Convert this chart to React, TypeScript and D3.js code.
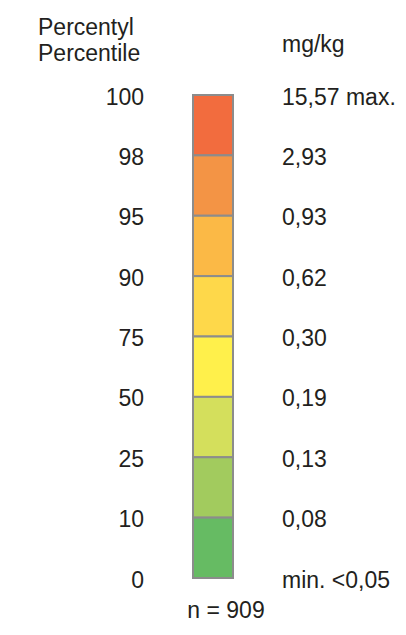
import React, { useRef, useEffect } from 'react';
import * as d3 from 'd3';

// Percentile boundaries (top to bottom) and matching concentrations
const percentiles = ['100', '98', '95', '90', '75', '50', '25', '10', '0'];
const concentrations = ['15,57 max.', '2,93', '0,93', '0,62', '0,30', '0,19', '0,13', '0,08', 'min. <0,05'];
// One colour per class between two boundaries
const classColors = ['#F26C3E', '#F39445', '#FBB946', '#FED84A', '#FFF04B', '#D4DF5C', '#A2CB5E', '#66BB63'];
const sampleCount = 909;

const App = () => {
    const chartRef = useRef<SVGSVGElement | null>(null);

    useEffect(() => {
        const width = 406;
        const height = 635;
        const font = 'Liberation Sans, Arial, sans-serif';
        const fontSize = 23;
        const textColor = '#231f20';

        const svg = d3.select(chartRef.current)
            .attr('width', width)
            .attr('height', height);
        svg.selectAll('*').remove();

        // boundary index -> y
        const yScale = d3.scaleLinear().domain([0, percentiles.length - 1]).range([95, 578]);
        const barX = 193;
        const barW = 40;

        // Headers
        const header = svg.append('g')
            .attr('font-family', font)
            .attr('font-size', fontSize)
            .attr('fill', textColor);
        header.append('text').attr('x', 38).attr('y', 35).text('Percentyl');
        header.append('text').attr('x', 38).attr('y', 61).text('Percentile');
        header.append('text').attr('x', 282).attr('y', 52).text('mg/kg');

        // Colour classes
        svg.selectAll('.cls')
            .data(classColors)
            .enter().append('rect')
            .attr('class', 'cls')
            .attr('x', barX)
            .attr('y', (d, i) => yScale(i))
            .attr('width', barW)
            .attr('height', (d, i) => yScale(i + 1) - yScale(i))
            .attr('fill', d => d)
            .attr('stroke', '#8c8c8c')
            .attr('stroke-width', 2);

        // Percentile labels
        svg.selectAll('.pct')
            .data(percentiles)
            .enter().append('text')
            .attr('class', 'pct')
            .attr('x', 144)
            .attr('y', (d, i) => yScale(i) + 1.5)
            .attr('dy', '0.35em')
            .attr('text-anchor', 'end')
            .attr('font-family', font)
            .attr('font-size', fontSize)
            .attr('fill', textColor)
            .text(d => d);

        // Concentration labels
        svg.selectAll('.val')
            .data(concentrations)
            .enter().append('text')
            .attr('class', 'val')
            .attr('x', 282)
            .attr('y', (d, i) => yScale(i) + 1.5)
            .attr('dy', '0.35em')
            .attr('font-family', font)
            .attr('font-size', fontSize)
            .attr('fill', textColor)
            .text(d => d);

        svg.append('text')
            .attr('x', 226)
            .attr('y', 618)
            .attr('text-anchor', 'middle')
            .attr('font-family', font)
            .attr('font-size', fontSize)
            .attr('fill', textColor)
            .text(`n = ${sampleCount}`);
    }, []);

    return (
        <svg ref={chartRef} style={{ position: 'absolute', left: 0, top: 0, background: '#fff' }} />
    );
};

export default App;
